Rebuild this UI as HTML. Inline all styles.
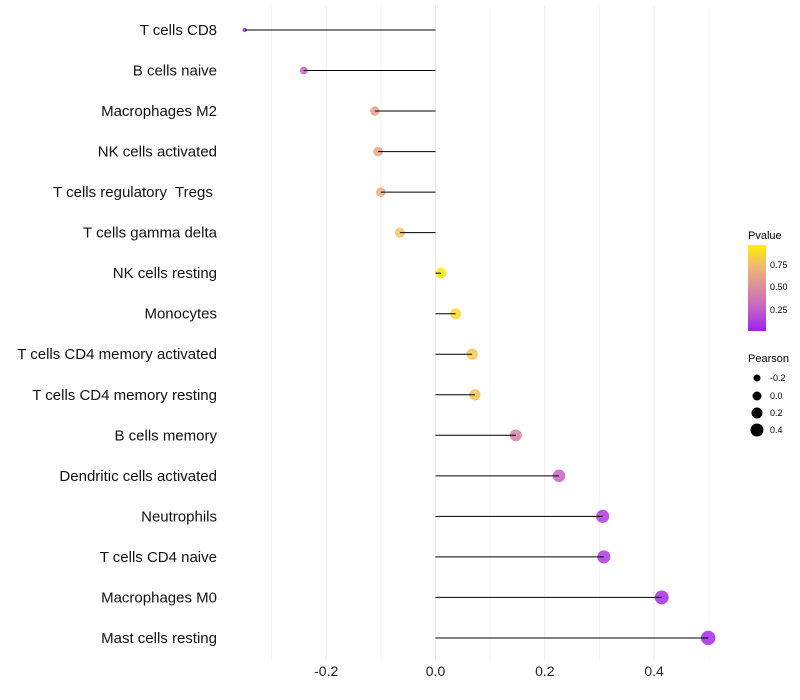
<!DOCTYPE html>
<html><head><meta charset="utf-8"><style>
body{margin:0;background:#fff;font-family:"Liberation Sans",sans-serif}
svg{display:block}
text{white-space:pre}
</style></head><body>
<svg id="chart" width="800" height="700" xmlns="http://www.w3.org/2000/svg">
<defs><linearGradient id="pg" x1="0" y1="1" x2="0" y2="0">
<stop offset="0" stop-color="#A020F0"/><stop offset="0.25" stop-color="#C35FC9"/><stop offset="0.5" stop-color="#DA8C9E"/><stop offset="0.75" stop-color="#EFB873"/><stop offset="1" stop-color="#FFF000"/></linearGradient></defs>
<g id="grid"></g><g id="marks"></g><g id="labels"></g>
<g>
<text x="748" y="239" font-size="11" fill="#000">Pvalue</text>
<rect x="748" y="245" width="18" height="86" fill="url(#pg)"/>
<text x="770" y="268" font-size="9">0.75</text><text x="770" y="290" font-size="9">0.50</text><text x="770" y="313" font-size="9">0.25</text>
</g>
<g>
<text x="748" y="362" font-size="11">Pearson</text>
<circle cx="757" cy="378" r="3.5"/><text x="770" y="381" font-size="9">-0.2</text>
<circle cx="757" cy="396" r="4.5"/><text x="770" y="399" font-size="9">0.0</text>
<circle cx="757" cy="413" r="5.5"/><text x="770" y="416" font-size="9">0.2</text>
<circle cx="757" cy="430" r="6.5"/><text x="770" y="433" font-size="9">0.4</text>
</g>
</svg>
<script>
const categories=["T cells CD8","B cells naive","Macrophages M2","NK cells activated","T cells regulatory  Tregs ","T cells gamma delta","NK cells resting","Monocytes","T cells CD4 memory activated","T cells CD4 memory resting","B cells memory","Dendritic cells activated","Neutrophils","T cells CD4 naive","Macrophages M0","Mast cells resting"];
const pearson=[-0.349,-0.241,-0.111,-0.105,-0.1,-0.065,0.01,0.037,0.067,0.072,0.147,0.226,0.306,0.308,0.414,0.499];
const pvalue=[0.03,0.25,0.62,0.64,0.67,0.8,0.97,0.9,0.82,0.8,0.45,0.28,0.1,0.1,0.05,0.03];
const tickVals=[-0.2,0,0.2,0.4];
const tickLabels=["-0.2","0.0","0.2","0.4"];
const minorVals=[-0.3,-0.1,0.1,0.3,0.5];
const NS="http://www.w3.org/2000/svg";
const x=v=>435.5+v*546.5;
const y=i=>30+i*40.53;
function col(p){const st=[[0,[160,32,240]],[0.25,[195,95,201]],[0.5,[218,140,158]],[0.75,[239,184,115]],[1,[255,240,0]]];
for(let k=1;k<st.length;k++){if(p<=st[k][0]){const a=st[k-1],b=st[k],t=(p-a[0])/(b[0]-a[0]);return "rgb("+a[1].map((c,j)=>Math.round(c+(b[1][j]-c)*t)).join(",")+")";}}return "rgb(255,240,0)";}
function mk(t,a,p){const e=document.createElementNS(NS,t);for(const k in a)e.setAttribute(k,a[k]);p.appendChild(e);return e;}
const grid=document.getElementById('grid'),marks=document.getElementById('marks'),labels=document.getElementById('labels');
minorVals.forEach(v=>{const l=mk('line',{x1:x(v),x2:x(v),y1:5,y2:660,stroke:'#f4f4f4','stroke-width':0.8},grid);

});
tickVals.forEach((v,i)=>{const l=mk('line',{x1:x(v),x2:x(v),y1:5,y2:660,stroke:'#ebebeb','stroke-width':1},grid);


const t=mk('text',{x:x(v),y:676,'font-size':14,'text-anchor':'middle',fill:'#222'},labels);t.textContent=tickLabels[i];

});
categories.forEach((c,i)=>{const t=mk('text',{x:217,y:y(i)+5,'font-size':15,'text-anchor':'end',fill:'#111'},labels);t.textContent=c;


const r=2+5.2*Math.sqrt(Math.max(0,pearson[i]+0.35)/0.85);
const p=mk('circle',{cx:x(pearson[i]),cy:y(i),r:r,fill:col(pvalue[i]),'fill-opacity':0.85},marks);


const l=mk('line',{x1:x(0),x2:x(pearson[i]),y1:y(i),y2:y(i),stroke:'#000','stroke-width':1},marks);

});
</script>
</body></html>
